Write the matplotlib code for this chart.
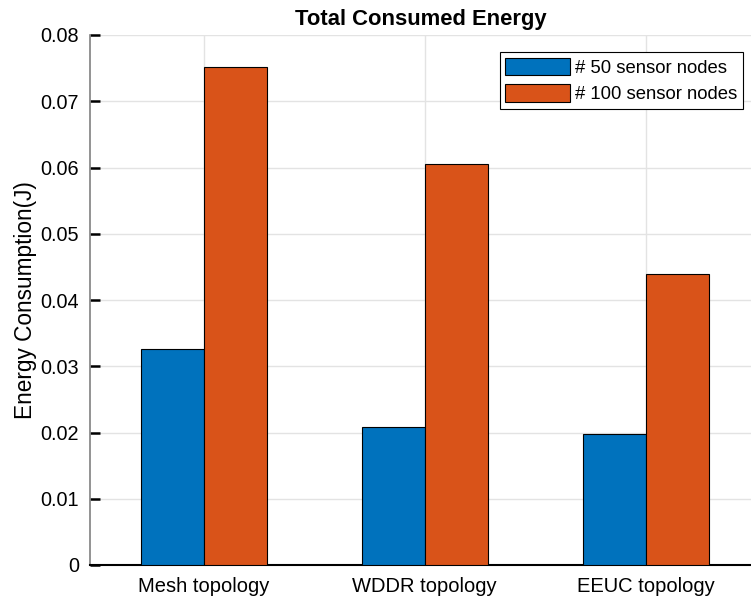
import numpy as np
import matplotlib.pyplot as plt

# Data
categories = ["Mesh topology", "WDDR topology", "EEUC topology"]
nodes_50 = [0.0326, 0.0208, 0.0198]
nodes_100 = [0.0752, 0.0606, 0.0440]
series_labels = ["# 50 sensor nodes", "# 100 sensor nodes"]
yticks = [0, 0.01, 0.02, 0.03, 0.04, 0.05, 0.06, 0.07, 0.08]
ytick_labels = ["0", "0.01", "0.02", "0.03", "0.04", "0.05", "0.06", "0.07", "0.08"]

plt.rcParams["font.family"] = ["Liberation Sans", "DejaVu Sans"]

fig = plt.figure(figsize=(7.51, 6.0), dpi=100)
ax = fig.add_axes([90 / 751, 35 / 600, (751 - 90) / 751, (565 - 35) / 600])

x = np.arange(1, len(categories) + 1)
w = 0.285
ax.bar(x - w / 2, nodes_50, w, color="#0072BD", edgecolor="black", linewidth=0.8,
       label=series_labels[0], zorder=3)
ax.bar(x + w / 2, nodes_100, w, color="#D95319", edgecolor="black", linewidth=0.8,
       label=series_labels[1], zorder=3)

ax.set_xlim(0.486, 3.475)
ax.set_ylim(0, 0.08)
ax.set_yticks(yticks)
ax.set_yticklabels(ytick_labels)
ax.set_xticks(x)
ax.set_xticklabels(categories)

ax.grid(True, color="#e3e3e3", linewidth=1, zorder=0)
ax.set_axisbelow(True)

for s in ["top", "right"]:
    ax.spines[s].set_visible(False)
ax.spines["left"].set_color("#808080")
ax.spines["left"].set_linewidth(1.2)
ax.spines["bottom"].set_color("black")
ax.spines["bottom"].set_linewidth(1.5)
ax.tick_params(axis="y", direction="in", length=7, width=1.8, colors="black",
               labelsize=14.3, pad=8)
ax.tick_params(axis="x", length=0, labelsize=14.5, pad=9)

ax.set_ylabel("Energy Consumption(J)", fontsize=16.3, labelpad=2)
ax.set_title("Total Consumed Energy", fontsize=15.8, fontweight="bold", pad=7)

leg = ax.legend(loc="upper right", bbox_to_anchor=(0.988, 0.968), fontsize=13.3,
                fancybox=False, framealpha=1, edgecolor="black",
                handlelength=3.5, handleheight=1.1, handletextpad=0.3,
                borderpad=0.3, labelspacing=0.4, borderaxespad=0)
leg.get_frame().set_linewidth(0.8)

fig.savefig("out.png", dpi=100)
